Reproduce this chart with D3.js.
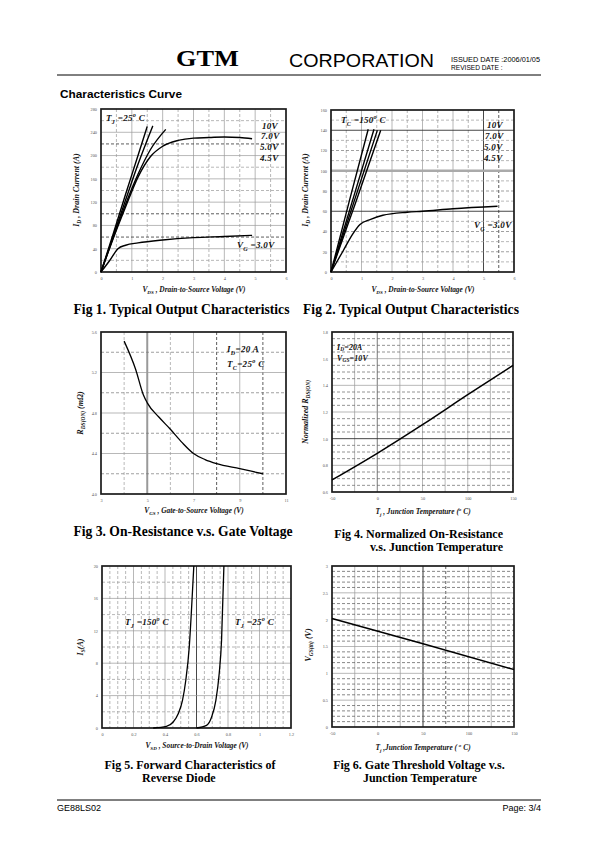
<!DOCTYPE html>
<html><head><meta charset="utf-8">
<script src="https://cdn.jsdelivr.net/npm/d3@7"></script>
<style>body{margin:0;background:#fff}svg{display:block}</style>
</head><body>
<svg id="page" width="595" height="842"></svg>
<script>
// ---------- DATA ----------
// Fig 1: Typical Output Characteristics, Tj = 25 C
const fig1XTicks=[0,1,2,3,4,5,6];
const fig1YTicks=[0,40,80,120,160,200,240,280];
const fig1Vg10=[[0,0],[0.4,66],[0.8,134],[1.2,200],[1.5,250]];
const fig1Vg7=[[0,0],[0.4,62],[0.8,124],[1.2,185],[1.68,251]];
const fig1Vg5=[[0,0],[0.4,60],[0.8,117],[1.2,168],[1.6,210],[2.1,245]];
const fig1Vg45=[[0,0],[0.4,58],[0.8,112],[1.2,163],[1.6,198],[2,216],[2.5,226],[3,230],[3.5,231],[4,232],[4.5,231],[4.9,229]];
const fig1Vg3=[[0,0],[0.3,21],[0.55,40],[0.8,46],[1.2,50],[2,55],[3,59],[4,61],[4.9,63]];
// Fig 2: Typical Output Characteristics, Tc = 150 C
const fig2XTicks=[0,1,2,3,4,5,6];
const fig2YTicks=[0,20,40,60,80,100,120,140,160];
const fig2Vg10=[[0,0],[0.6,70],[1.22,141]];
const fig2Vg7=[[0,0],[0.7,70],[1.41,141]];
const fig2Vg5=[[0,0],[0.75,69],[1.52,140]];
const fig2Vg45=[[0,0],[0.8,68],[1.63,140]];
const fig2Vg3=[[0,0],[0.4,21],[0.7,37],[0.95,47],[1.3,52],[1.7,56],[2.5,59],[3,60],[4,62.5],[5.46,65]];
// Fig 3: On-resistance vs gate voltage
const fig3XTicks=[3,5,7,9,11];
const fig3YTicks=[4.0,4.4,4.8,5.2,5.6];
const fig3Curve=[[4,5.51],[4.5,5.23],[4.83,4.98],[5,4.9],[5.5,4.76],[6,4.64],[6.5,4.51],[7,4.4],[7.5,4.34],[8,4.3],[9,4.25],[10,4.2]];
// Fig 4: Normalized on-resistance vs junction temperature
const fig4XTicks=[-50,0,50,100,150];
const fig4YTicks=[0.6,0.8,1.0,1.2,1.4,1.6,1.8];
const fig4Curve=[[-50,0.69],[0,0.89],[50,1.105],[100,1.33],[150,1.55]];
// Fig 5: Forward characteristics of reverse diode
const fig5XTicks=[0,0.2,0.4,0.6,0.8,1,1.2];
const fig5YTicks=[0,4,8,12,16,20];
const fig5Tj150=[[0.325,0],[0.409,0.2],[0.452,0.74],[0.484,1.77],[0.511,3.4],[0.532,5.9],[0.554,10],[0.568,14.5],[0.583,20]];
const fig5Tj25=[[0.6,0],[0.664,0.33],[0.696,1.36],[0.723,3.4],[0.744,6.7],[0.759,10.8],[0.774,20]];
// Fig 6: Gate threshold voltage vs junction temperature
const fig6XTicks=[-50,0,50,100,150];
const fig6YTicks=[0,0.5,1,1.5,2,2.5,3];
const fig6Curve=[[-50,2.02],[50,1.55],[150,1.07]];

// ---------- DRAWING ----------
const svg=d3.select('#page');
const SERIF='"Liberation Serif","Times New Roman",serif';
const SANS='"Liberation Sans",Arial,sans-serif';
const near=(a,b)=>Math.abs(a-b)<1e-6;
const isMult=(v,m)=>Math.abs(v/m-Math.round(v/m))<1e-6;

function rich(parent,x,y,parts,o){
  const t=parent.append('text').attr('x',x).attr('y',y)
    .attr('font-family',SERIF).attr('font-size',o.size)
    .attr('font-weight',o.weight||'bold').attr('font-style',o.style||'italic')
    .attr('text-anchor',o.anchor||'start').attr('fill','#111')
    .attr('letter-spacing',o.ls||0);
  if(o.rotate) t.attr('transform',`rotate(-90,${x},${y})`);
  let shift=0;
  const subK=o.sub==null?0.3:o.sub;
  parts.forEach(p=>{
    const [s,k]=typeof p==='string'?[p,null]:p;
    const target=k==='sub'?o.size*subK:k==='sup'?-o.size*0.4:0;
    const ts=t.append('tspan').text(s).attr('dy',target-shift);
    if(k) ts.attr('font-size',o.size*0.68);
    shift=target;
  });
  return t;
}

function panel(o){
  const g=svg.append('g');
  const [L,R,T,B]=o.box;
  const x=d3.scaleLinear().domain(o.xd).range([L,R]);
  const y=d3.scaleLinear().domain(o.yd).range([B,T]);
  o.xGrid.forEach(v=>{
    const s=o.xStyle(v); if(!s) return;
    g.append('line').attr('x1',x(v)).attr('x2',x(v)).attr('y1',T).attr('y2',B)
      .attr('stroke',s[0]).attr('stroke-width',s[1]).attr('stroke-dasharray',s[2]||null);
  });
  o.yGrid.forEach(v=>{
    const s=o.yStyle(v); if(!s) return;
    g.append('line').attr('y1',y(v)).attr('y2',y(v)).attr('x1',L).attr('x2',R)
      .attr('stroke',s[0]).attr('stroke-width',s[1]).attr('stroke-dasharray',s[2]||null);
  });
  const ax=g.append('g').attr('transform',`translate(0,${B})`)
    .call(d3.axisBottom(x).tickValues(o.xTicks).tickSize(0).tickPadding(5).tickFormat(o.xFmt||(d=>d)));
  const ay=g.append('g').attr('transform',`translate(${L},0)`)
    .call(d3.axisLeft(y).tickValues(o.yTicks).tickSize(0).tickPadding(4).tickFormat(o.yFmt||(d=>d)));
  [ax,ay].forEach(a=>{a.select('.domain').remove();
    a.selectAll('text').attr('font-size',4.3).attr('font-family',SERIF).attr('fill','#555');});
  g.append('rect').attr('x',L).attr('y',T).attr('width',R-L).attr('height',B-T)
    .attr('fill','none').attr('stroke','#1a1a1a').attr('stroke-width',1.7);
  const line=d3.line().x(d=>x(d[0])).y(d=>y(d[1])).curve(d3.curveMonotoneX);
  o.series.forEach(s=>g.append('path').attr('d',line(s)).attr('fill','none')
    .attr('stroke','#000').attr('stroke-width',o.lw||1.3).attr('stroke-linejoin','round'));
  return {g,x,y};
}
const GR='#9a9a9a', DK='#333';
const solid=(c,w)=>[c,w];
const dash=(c,w)=>[c,w,'3,2'];

// Fig 1
panel({box:[101,286,109,272],xd:[0,6],yd:[0,280],
  xTicks:fig1XTicks,yTicks:fig1YTicks,
  xGrid:d3.range(0.5,6,0.5),yGrid:d3.range(20,280,20),
  xStyle:v=>isMult(v,1)?solid(GR,0.7):dash(GR,0.7),
  yStyle:v=>(near(v,220)||near(v,100)||near(v,60))?dash(DK,0.8):isMult(v,40)?solid(GR,0.7):dash(GR,0.7),
  series:[fig1Vg10,fig1Vg7,fig1Vg5,fig1Vg45,fig1Vg3],lw:1.4});
// Fig 2
panel({box:[331,514,110,272],xd:[0,6],yd:[0,160],
  xTicks:fig2XTicks,yTicks:fig2YTicks,
  xGrid:d3.range(0.5,6,0.5),yGrid:d3.range(10,160,10),
  xStyle:v=>near(v,5)?solid(DK,0.9):near(v,5.5)?dash(DK,0.8):isMult(v,1)?solid(GR,0.7):dash(GR,0.7),
  yStyle:v=>(near(v,140)||near(v,60))?solid(DK,0.9):near(v,100)?solid('#aaa',2.4):isMult(v,20)?dash('#777',0.7):dash(GR,0.7),
  series:[fig2Vg10,fig2Vg7,fig2Vg5,fig2Vg45,fig2Vg3],lw:1.4});
// Fig 3
panel({box:[101,286,332,494],xd:[3,11],yd:[4.0,5.6],
  xTicks:fig3XTicks,yTicks:fig3YTicks,yFmt:d3.format('.1f'),
  xGrid:d3.range(4,11,1),yGrid:d3.range(4.2,5.6,0.2),
  xStyle:v=>near(v,5)?solid('#999',2):(near(v,7)||near(v,9))?solid(GR,0.7):(near(v,8)||near(v,10))?dash(DK,0.8):dash(GR,0.7),
  yStyle:v=>isMult(v-4,0.4)?solid(GR,0.7):dash('#777',0.7),
  series:[fig3Curve],lw:1.3});
// Fig 4
panel({box:[332,513,332,492],xd:[-50,150],yd:[0.6,1.8],
  xTicks:fig4XTicks,yTicks:fig4YTicks,yFmt:d3.format('.1f'),
  xGrid:d3.range(-25,150,25),yGrid:d3.range(0.65,1.8,0.05),
  xStyle:v=>near(v,0)?solid('#555',0.8):solid(GR,0.7),
  yStyle:v=>near(v,1)?solid(DK,0.9):isMult(v-0.6,0.2)?solid(GR,0.7):dash('#666',0.7),
  series:[fig4Curve],lw:1.5});
// Fig 5
panel({box:[102,291,566,728],xd:[0,1.2],yd:[0,20],
  xTicks:fig5XTicks,yTicks:fig5YTicks,
  xGrid:d3.range(0.05,1.2,0.05),yGrid:d3.range(2,20,2),
  xStyle:v=>near(v,0.6)?solid(DK,0.9):isMult(v,0.2)?solid(GR,0.7):dash(GR,0.7),
  yStyle:v=>isMult(v,4)?solid(GR,0.7):dash(GR,0.7),
  series:[fig5Tj150,fig5Tj25],lw:1.3});
// Fig 6
panel({box:[332,514,566,727],xd:[-50,150],yd:[0,3],
  xTicks:fig6XTicks,yTicks:fig6YTicks,
  xGrid:d3.range(-25,150,25),yGrid:d3.range(0.1,3,0.1),
  xStyle:v=>near(v,50)?solid('#999',2):near(v,75)?dash(DK,0.8):solid(GR,0.7),
  yStyle:v=>isMult(v,0.5)?solid(GR,0.7):dash('#555',0.7),
  series:[fig6Curve],lw:1.5});

// ---------- TEXT ----------
const A={size:9,ls:0.3};
// Fig 1 annotations
rich(svg,106,121,['T',['J','sub'],' =25',['o','sup'],' C'],A);
rich(svg,262,129,['10V'],A);
rich(svg,261,139,['7.0V'],A);
rich(svg,260,150,['5.0V'],A);
rich(svg,260,161,['4.5V'],A);
rich(svg,237,248,['V',['G','sub'],' =3.0V'],A);
// Fig 2 annotations
rich(svg,341,123,['T',['C','sub'],' =150',['o','sup'],' C'],A);
rich(svg,487,128,['10V'],A);
rich(svg,485,139,['7.0V'],A);
rich(svg,484,150,['5.0V'],A);
rich(svg,484,161,['4.5V'],A);
rich(svg,474,228,['V',['G','sub'],' =3.0V'],A);
// Fig 3 annotations
rich(svg,227,352,['I',['D','sub'],'=20 A'],A);
rich(svg,227,367,['T',['C','sub'],'=25',['o','sup'],' C'],A);
// Fig 4 annotations (smaller, tighter)
const A4={size:7.8,ls:0.2,sub:0.18};
rich(svg,337,350,['I',['D','sub'],'=20A'],A4);
rich(svg,337,361,['V',['GS','sub'],'=10V'],A4);
// Fig 5 annotations
rich(svg,125,625,['T',['J','sub'],' =150',['o','sup'],' C'],A);
rich(svg,235,625,['T',['J','sub'],' =25',['o','sup'],' C'],A);

// axis titles
const X={size:7.4,anchor:'middle'};
const Y={size:8,anchor:'middle',rotate:true};
rich(svg,194,292,['V',['DS','sub'],' , Drain-to-Source Voltage (V)'],X);
rich(svg,423,292,['V',['DS','sub'],' , Drain-to-Source Voltage (V)'],X);
rich(svg,194,513,['V',['GS','sub'],' , Gate-to-Source Voltage (V)'],X);
rich(svg,423,514,['T',['j','sub'],' , Junction Temperature (',['o','sup'],' C)'],X);
rich(svg,197,748,['V',['SD','sub'],' , Source-to-Drain Voltage (V)'],X);
rich(svg,423,750,['T',['j','sub'],' ,Junction Temperature ( ',['o','sup'],' C)'],X);
rich(svg,79,190,['I',['D','sub'],' , Drain Current (A)'],Y);
rich(svg,308,190,['I',['D','sub'],' , Drain Current (A)'],Y);
rich(svg,83,413,['R',['DS(ON)','sub'],' (m',"\u03A9",')'],Y);
rich(svg,308,412,['Normalized R',['DS(ON)','sub']],Y);
rich(svg,83,647,['I',['S','sub'],'(A)'],Y);
rich(svg,311,645,['V',['GS(th)','sub'],' (V)'],Y);

// figure captions
function cap(x,y,s,anchor,size){svg.append('text').attr('x',x).attr('y',y).text(s)
  .attr('font-family',SERIF).attr('font-weight','bold').attr('font-size',size||12)
  .attr('text-anchor',anchor||'middle').attr('fill','#000');}
cap(181.5,314,'Fig 1. Typical Output Characteristics','middle',13.6);
cap(411,314,'Fig 2. Typical Output Characteristics','middle',13.6);
cap(183,536,'Fig 3. On-Resistance v.s. Gate Voltage','middle',13.6);
cap(503,538,'Fig 4. Normalized On-Resistance','end');
cap(503,551,'v.s. Junction Temperature','end');
cap(190,769,'Fig 5. Forward Characteristics of');
cap(142,782,'Reverse Diode','start');
cap(419,769,'Fig 6. Gate Threshold Voltage v.s.');
cap(420,782,'Junction Temperature');

// header
svg.append('text').attr('x',176).attr('y',66).text('GTM').attr('font-family',SERIF)
  .attr('font-weight','bold').attr('font-size',24).attr('textLength',63).attr('lengthAdjust','spacingAndGlyphs');
svg.append('text').attr('x',289).attr('y',67).text('CORPORATION').attr('font-family',SANS)
  .attr('font-size',19).attr('textLength',145).attr('lengthAdjust','spacingAndGlyphs');
svg.append('text').attr('x',451).attr('y',62).text('ISSUED DATE   :2006/01/05').attr('font-family',SANS)
  .attr('font-size',6.6).attr('textLength',89).attr('lengthAdjust','spacingAndGlyphs');
svg.append('text').attr('x',451).attr('y',70).text('REVISED DATE :').attr('font-family',SANS).attr('font-size',6.6);
svg.append('line').attr('x1',57).attr('x2',541).attr('y1',75).attr('y2',75).attr('stroke','#000').attr('stroke-width',1);
svg.append('text').attr('x',60).attr('y',98).text('Characteristics Curve').attr('font-family',SANS)
  .attr('font-weight','bold').attr('font-size',11.8);
// footer
svg.append('line').attr('x1',57).attr('x2',541).attr('y1',800).attr('y2',800).attr('stroke','#000').attr('stroke-width',1);
svg.append('text').attr('x',57).attr('y',811).text('GE88LS02').attr('font-family',SANS).attr('font-size',9);
svg.append('text').attr('x',541).attr('y',811).text('Page: 3/4').attr('font-family',SANS).attr('font-size',9).attr('text-anchor','end');
</script>
</body></html>
